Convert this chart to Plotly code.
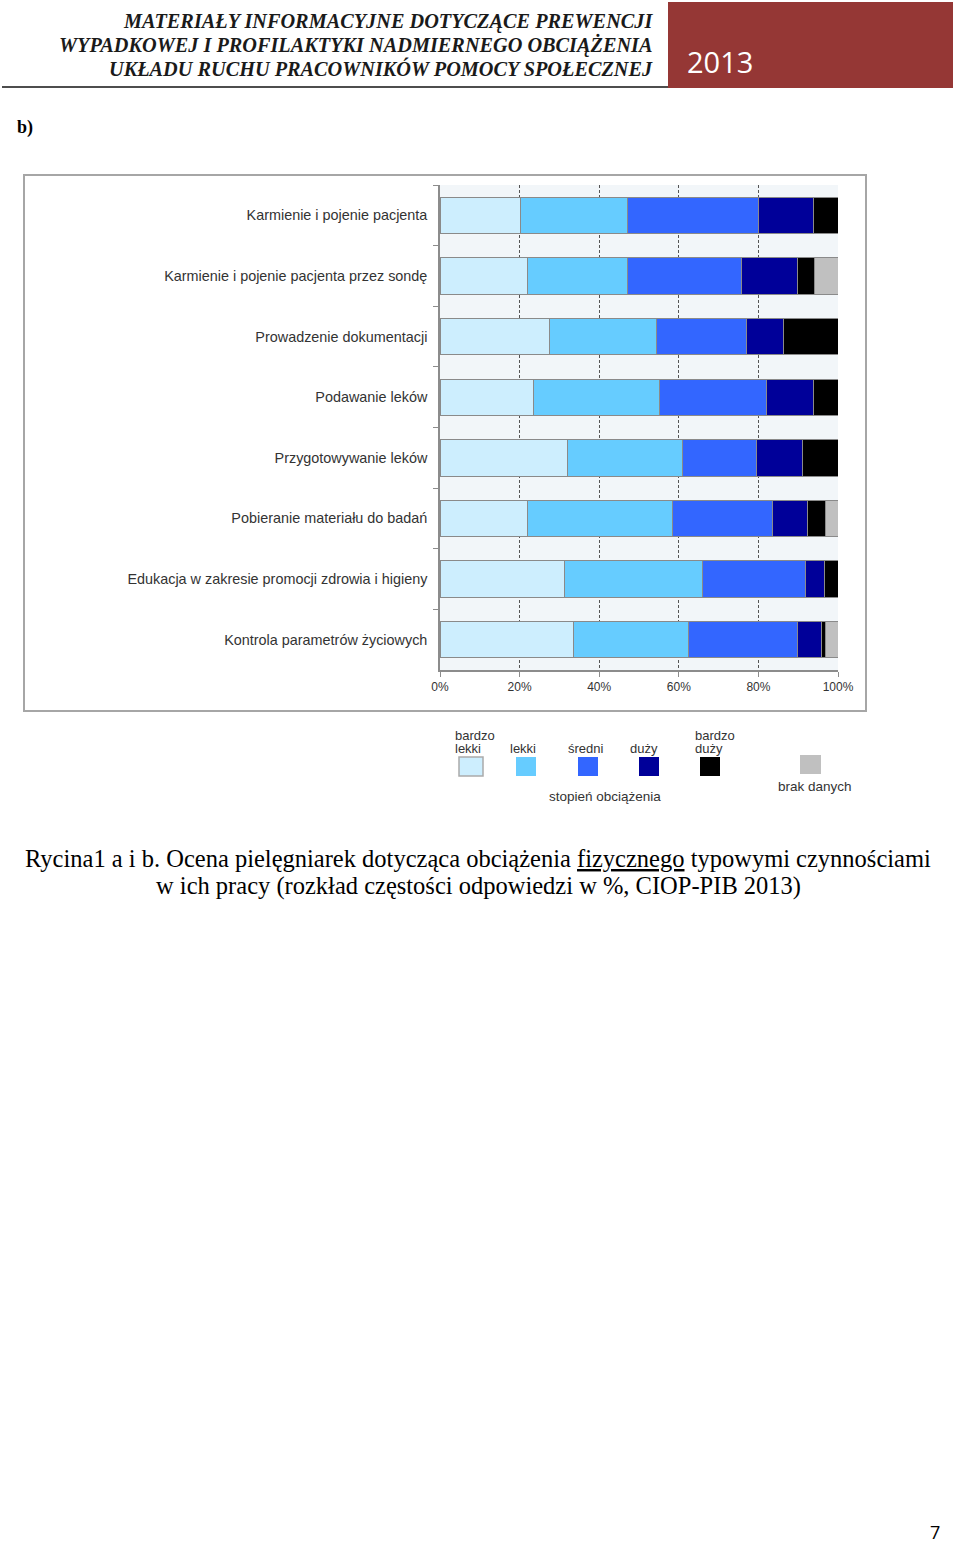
import plotly.graph_objects as go

categories = [
    "Karmienie i pojenie pacjenta",
    "Karmienie i pojenie pacjenta przez sondę",
    "Prowadzenie dokumentacji",
    "Podawanie leków",
    "Przygotowywanie leków",
    "Pobieranie materiału do badań",
    "Edukacja w zakresie promocji zdrowia i higieny",
    "Kontrola parametrów życiowych",
]
series_names = ["bardzo lekki", "lekki", "średni", "duży", "bardzo duży", "brak danych"]
bardzo_lekki = [20.3, 22.1, 27.6, 23.5, 32.0, 22.1, 31.2, 33.6]
lekki        = [26.8, 25.0, 26.8, 31.6, 29.0, 36.2, 34.8, 28.9]
sredni       = [32.8, 28.7, 22.7, 27.0, 18.4, 25.3, 25.8, 27.4]
duzy         = [14.0, 14.0,  9.1, 11.8, 11.8,  8.8,  4.8,  5.9]
bardzo_duzy  = [ 6.1,  4.3, 13.8,  6.1,  8.8,  4.5,  3.4,  1.1]
brak_danych  = [ 0.0,  5.9,  0.0,  0.0,  0.0,  3.1,  0.0,  3.1]
x_ticks = [0, 20, 40, 60, 80, 100]
x_tick_labels = ["0%", "20%", "40%", "60%", "80%", "100%"]

colors = ["#cdeefe", "#66ccff", "#3366ff", "#000099", "#000000", "#c0c0c0"]
values = [bardzo_lekki, lekki, sredni, duzy, bardzo_duzy, brak_danych]

W, H = 960, 1544
def X(px): return px / W
def Y(py): return 1 - py / H

fig = go.Figure()
for name, vals, col in zip(series_names, values, colors):
    fig.add_trace(go.Bar(
        y=categories, x=vals, name=name, orientation="h",
        marker=dict(color=col, line=dict(color="#8a8a8a", width=1)),
        width=0.6, showlegend=False,
    ))

shapes = []
annotations = []

# header
shapes.append(dict(type="rect", xref="paper", yref="paper",
                   x0=X(668), x1=X(953), y0=Y(88), y1=Y(2),
                   fillcolor="#953735", line=dict(width=0), layer="below"))
shapes.append(dict(type="line", xref="paper", yref="paper",
                   x0=X(2), x1=X(668), y0=Y(87), y1=Y(87),
                   line=dict(color="#4d4d4d", width=2)))
header_lines = [
    ("MATERIAŁY INFORMACYJNE DOTYCZĄCE PREWENCJI", 21),
    ("WYPADKOWEJ I PROFILAKTYKI NADMIERNEGO OBCIĄŻENIA", 45),
    ("UKŁADU RUCHU PRACOWNIKÓW POMOCY SPOŁECZNEJ", 68),
]
for t, py in header_lines:
    annotations.append(dict(text="<b><i>" + t + "</i></b>", xref="paper", yref="paper",
                            x=X(655), y=Y(py), xanchor="right", yanchor="middle",
                            showarrow=False,
                            font=dict(family="Liberation Serif", size=20.3, color="#1a1a1a")))
annotations.append(dict(text="2013", xref="paper", yref="paper", x=X(685), y=Y(61),
                        xanchor="left", yanchor="middle", showarrow=False,
                        font=dict(family="Open Sans", size=29, color="white")))

annotations.append(dict(text="<b>b)</b>", xref="paper", yref="paper", x=X(15), y=Y(128),
                        xanchor="left", yanchor="middle", showarrow=False,
                        font=dict(family="Liberation Serif", size=18, color="black")))

# chart box
shapes.append(dict(type="rect", xref="paper", yref="paper",
                   x0=X(24), x1=X(866), y0=Y(711), y1=Y(175),
                   line=dict(color="#a6a6a6", width=2), fillcolor="rgba(0,0,0,0)", layer="below"))

# legend
sw = [(459, 483, ["bardzo", "lekki"], 453, "left"),
      (516, 536, ["lekki"], 523, "center"),
      (578, 598, ["średni"], 586, "center"),
      (639, 659, ["duży"], 644, "center"),
      (700, 720, ["bardzo", "duży"], 693, "left")]
for i, (x0, x1, labs, lx, al) in enumerate(sw):
    shapes.append(dict(type="rect", xref="paper", yref="paper",
                       x0=X(x0), x1=X(x1), y0=Y(776), y1=Y(757),
                       fillcolor=colors[i],
                       line=dict(color="#aaaaaa" if i == 0 else colors[i], width=1.5 if i == 0 else 0)))
    ys = [749] if len(labs) == 1 else [736, 749]
    for lab, py in zip(labs, ys):
        annotations.append(dict(text=lab, xref="paper", yref="paper", x=X(lx), y=Y(py),
                                xanchor=al, yanchor="middle", showarrow=False,
                                font=dict(family="Liberation Sans", size=13, color="#333333")))
shapes.append(dict(type="rect", xref="paper", yref="paper",
                   x0=X(800), x1=X(821), y0=Y(774), y1=Y(755),
                   fillcolor=colors[5], line=dict(width=0)))
annotations.append(dict(text="brak danych", xref="paper", yref="paper", x=X(815), y=Y(786),
                        xanchor="center", yanchor="middle", showarrow=False,
                        font=dict(family="Liberation Sans", size=13.5, color="#333333")))
annotations.append(dict(text="stopień obciążenia", xref="paper", yref="paper", x=X(605), y=Y(796),
                        xanchor="center", yanchor="middle", showarrow=False,
                        font=dict(family="Liberation Sans", size=13.5, color="#333333")))

# caption
annotations.append(dict(
    text="Rycina1 a i b. Ocena pielęgniarek dotycząca obciążenia <u>fizycznego</u> typowymi czynnościami",
    xref="paper", yref="paper", x=X(478), y=Y(858), xanchor="center", yanchor="middle",
    showarrow=False, font=dict(family="Liberation Serif", size=24.5, color="black")))
annotations.append(dict(
    text="w ich pracy (rozkład częstości odpowiedzi w %, CIOP-PIB 2013)",
    xref="paper", yref="paper", x=X(478), y=Y(886), xanchor="center", yanchor="middle",
    showarrow=False, font=dict(family="Liberation Serif", size=24.5, color="black")))
annotations.append(dict(text="7", xref="paper", yref="paper", x=X(935), y=Y(1532),
                        xanchor="center", yanchor="middle", showarrow=False,
                        font=dict(family="Open Sans", size=18, color="black")))

fig.update_layout(
    template="none",
    width=W, height=H, margin=dict(l=0, r=0, t=0, b=0, pad=0, autoexpand=False),
    paper_bgcolor="white", plot_bgcolor="#f2f6f9",
    barmode="stack", showlegend=False,
    shapes=shapes, annotations=annotations,
    xaxis=dict(domain=[X(440), X(838)], range=[0, 100], tickvals=x_ticks, ticktext=x_tick_labels,
               showgrid=True, gridcolor="#555555", griddash="3px,2px", gridwidth=1.3,
               showline=True, linecolor="#8c8c8c", linewidth=1.5,
               ticks="outside", ticklen=5, tickcolor="#8c8c8c",
               tickfont=dict(family="Liberation Sans", size=12, color="#333333"),
               zeroline=False, fixedrange=True, automargin=False),
    yaxis=dict(domain=[Y(670), Y(185)], autorange="reversed", type="category",
               tickson="boundaries", ticks="outside", ticklen=5, tickcolor="#8c8c8c",
               showline=True, linecolor="#8c8c8c", linewidth=1.5, showgrid=False,
               tickfont=dict(family="Liberation Sans", size=14.4, color="#333333"),
               ticklabelstandoff=8, automargin=False, fixedrange=True, zeroline=False),
    font=dict(family="Liberation Sans"),
)

fig.write_html("out.html", config={"displayModeBar": False},
               post_script="document.body.style.margin='0';document.body.style.overflow='hidden';")
